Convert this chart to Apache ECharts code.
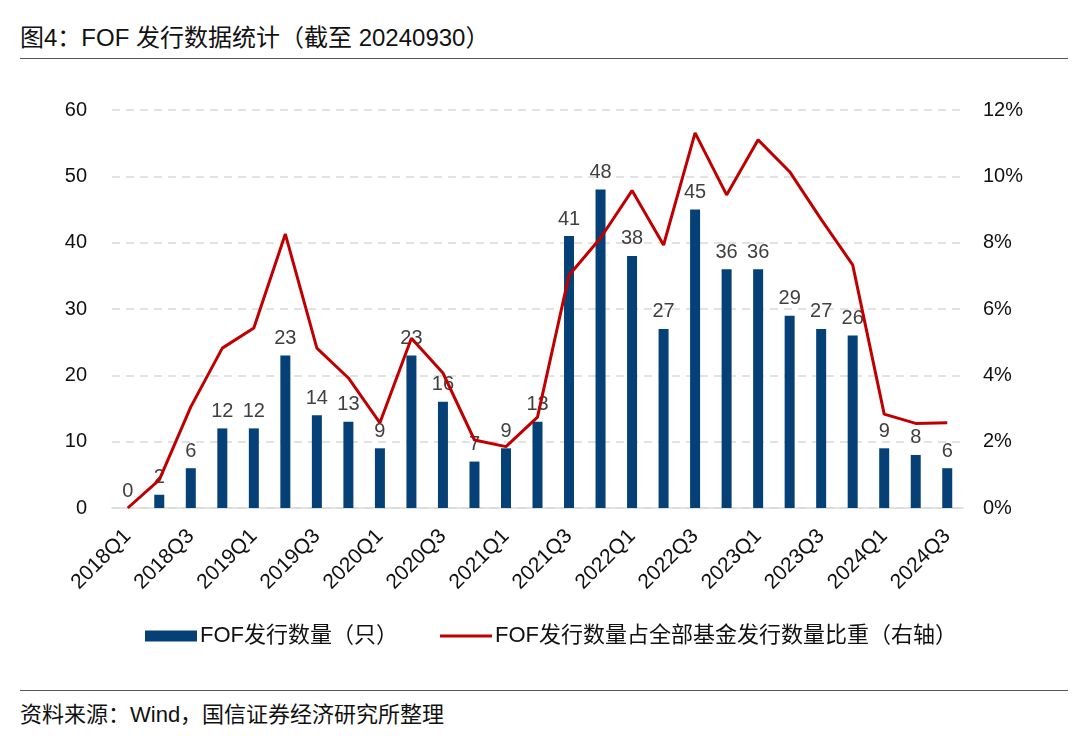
<!DOCTYPE html>
<html>
<head>
<meta charset="utf-8">
<script src="https://cdn.jsdelivr.net/npm/echarts@6/dist/echarts.min.js"></script>
<style>
  html, body { margin: 0; padding: 0; background: #fff; }
  #wrap { position: relative; width: 1080px; height: 750px; font-family: 'Liberation Sans', 'Noto Sans CJK SC', sans-serif; }
  #title { position: absolute; left: 20px; top: 22px; font-size: 24px; line-height: 32px; color: #111; }
  #rule1 { position: absolute; left: 20px; top: 58px; width: 1048px; height: 0; border-top: 1.5px solid #555; }
  #rule2 { position: absolute; left: 20px; top: 690px; width: 1048px; height: 0; border-top: 1.5px solid #555; }
  #source { position: absolute; left: 20px; top: 700px; font-size: 22px; line-height: 30px; color: #111; }
  #chart { position: absolute; left: 0; top: 60px; width: 1080px; height: 625px; }
</style>
</head>
<body>
<div id="wrap">
  <div id="title">图4：FOF 发行数据统计（截至 20240930）</div>
  <div id="rule1"></div>
  <div id="chart"></div>
  <div id="rule2"></div>
  <div id="source">资料来源：Wind，国信证券经济研究所整理</div>
</div>
<script>
var categories = ['2018Q1', '2018Q2', '2018Q3', '2018Q4', '2019Q1', '2019Q2', '2019Q3', '2019Q4',
  '2020Q1', '2020Q2', '2020Q3', '2020Q4', '2021Q1', '2021Q2', '2021Q3', '2021Q4',
  '2022Q1', '2022Q2', '2022Q3', '2022Q4', '2023Q1', '2023Q2', '2023Q3', '2023Q4',
  '2024Q1', '2024Q2', '2024Q3']
var fofCount = [0, 2, 6, 12, 12, 23, 14, 13, 9, 23, 16, 7, 9, 13, 41, 48, 38, 27, 45, 36, 36, 29, 27, 26, 9, 8, 6]
// share of all funds issued, in %
var fofShare = [0, 0.85, 3.05, 4.82, 5.43, 8.26, 4.82, 3.92, 2.57, 5.12, 4.07, 2.05, 1.85, 2.74,
  7.02, 8.14, 9.57, 7.93, 11.31, 9.44, 11.1, 10.14, 8.7, 7.33, 2.83, 2.55, 2.57]
var leftTicks = { min: 0, max: 60, interval: 10 }
var rightTicks = { min: 0, max: 12, interval: 2 }

var chart = echarts.init(document.getElementById('chart'))
var font = "'Liberation Sans', 'Noto Sans CJK SC', sans-serif"
chart.setOption({
  backgroundColor: '#ffffff',
  textStyle: { fontFamily: font },
  grid: {
    top: 50,
    left: 112,
    right: 117,
    bottom: 177,
    containLabel: false
  },
  legend: {
    left: 140,
    top: 560,
    itemGap: 42,
    itemWidth: 52,
    itemHeight: 11,
    textStyle: { fontSize: 22, color: '#111', fontFamily: font, padding: [0, 0, 0, -2] },
    data: [
      { name: 'FOF发行数量（只）', icon: 'rect' },
      { name: 'FOF发行数量占全部基金发行数量比重（右轴）', icon: 'path://M0,0 L52,0 L52,3 L0,3 Z' }
    ]
  },
  xAxis: [{
    type: 'category',
    data: categories,
    axisLine: { lineStyle: { color: '#d9d9d9', width: 1.5 } },
    axisTick: { show: false },
    axisLabel: {
      interval: 1,
      rotate: 45,
      margin: 25,
      fontSize: 21,
      color: '#111'
    }
  }],
  yAxis: [{
    type: 'value',
    min: leftTicks.min,
    max: leftTicks.max,
    interval: leftTicks.interval,
    axisLine: { show: false },
    axisTick: { show: false },
    axisLabel: { fontSize: 20, color: '#111', margin: 25 },
    splitLine: { lineStyle: { color: '#d9d9d9', type: [8, 6], width: 1.5 } }
  }, {
    type: 'value',
    min: rightTicks.min,
    max: rightTicks.max,
    interval: rightTicks.interval,
    axisLine: { show: false },
    axisTick: { show: false },
    axisLabel: { fontSize: 20, color: '#111', margin: 20, formatter: '{value}%' },
    splitLine: { show: false }
  }],
  series: [{
    name: 'FOF发行数量（只）',
    type: 'bar',
    data: fofCount,
    barWidth: 10,
    itemStyle: { color: '#054177' },
    label: {
      show: true,
      position: 'top',
      distance: 7,
      fontSize: 20,
      color: '#404040'
    }
  }, {
    name: 'FOF发行数量占全部基金发行数量比重（右轴）',
    type: 'line',
    yAxisIndex: 1,
    data: fofShare,
    symbol: 'none',
    lineStyle: { color: '#c00000', width: 3 },
    itemStyle: { color: '#c00000' },
    z: 3
  }]
})
</script>
</body>
</html>
